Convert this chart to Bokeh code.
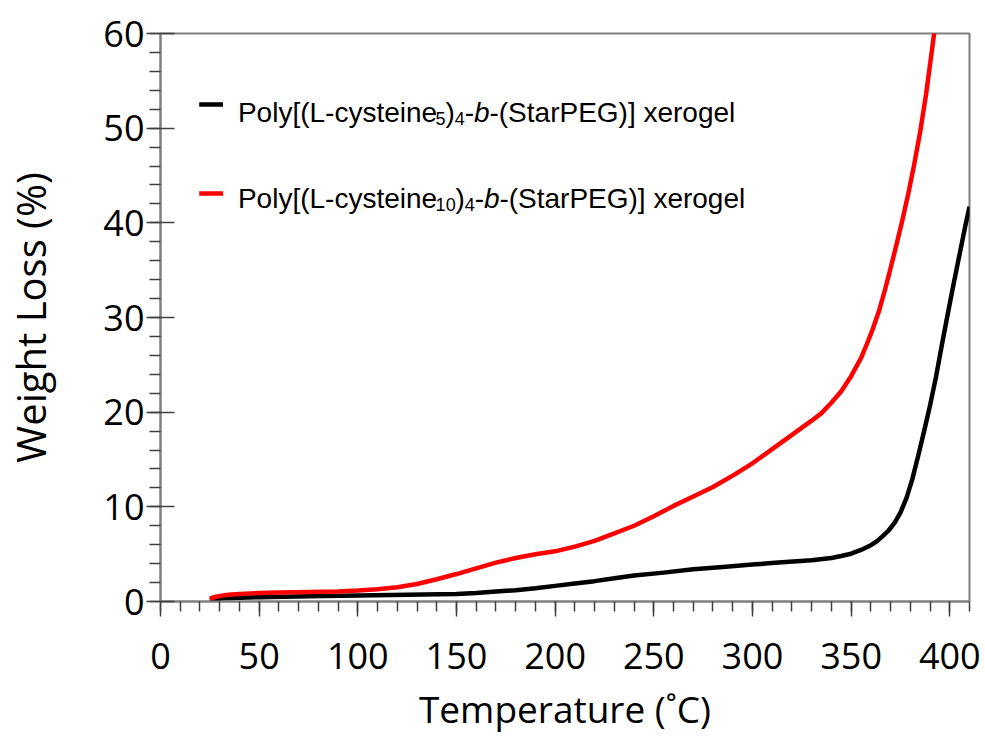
from bokeh.plotting import figure
from bokeh.models import Range1d, Label, FixedTicker
from bokeh.embed import file_html
from bokeh.resources import INLINE

# ---------------- data ----------------
temp_c5 = [25, 28, 32, 40, 50, 75, 100, 125, 150, 160, 170, 180, 190, 200, 210,
           220, 230, 240, 255, 270, 285, 300, 315, 330, 340, 345, 350, 355, 360,
           363, 366, 369, 372, 375, 378, 381, 384, 387, 390, 393, 396, 399, 402,
           405, 408, 410]
loss_c5 = [0.15, 0.25, 0.35, 0.4, 0.45, 0.55, 0.63, 0.7, 0.8, 0.9, 1.05, 1.2, 1.4,
           1.65, 1.9, 2.15, 2.45, 2.75, 3.05, 3.4, 3.65, 3.9, 4.15, 4.35, 4.6,
           4.8, 5.05, 5.45, 5.95, 6.35, 6.9, 7.5, 8.3, 9.4, 10.9, 12.9, 15.4,
           18.0, 20.7, 23.7, 27.1, 30.4, 33.6, 36.7, 39.8, 41.7]

temp_c10 = [25, 28, 32, 36, 40, 50, 60, 75, 90, 100, 110, 120, 130, 140, 150, 160,
            170, 180, 190, 200, 210, 220, 230, 240, 250, 260, 270, 280, 290, 300,
            310, 320, 330, 335, 340, 345, 350, 355, 358, 361, 364, 367, 370, 373,
            376, 379, 382, 385, 388, 391, 393]
loss_c10 = [0.3, 0.5, 0.65, 0.75, 0.8, 0.9, 0.95, 1.0, 1.05, 1.15, 1.3, 1.5, 1.85,
            2.35, 2.9, 3.5, 4.1, 4.6, 5.0, 5.3, 5.8, 6.4, 7.2, 8.0, 9.0, 10.1,
            11.1, 12.1, 13.3, 14.6, 16.1, 17.6, 19.1, 19.9, 21.0, 22.2, 23.8,
            25.7, 27.2, 28.8, 30.6, 32.8, 35.2, 37.7, 40.3, 43.1, 46.2, 49.6,
            53.6, 58.3, 61.5]

x_ticks = [0, 50, 100, 150, 200, 250, 300, 350, 400]
y_ticks = [0, 10, 20, 30, 40, 50, 60]

# ---------------- layout ----------------
X0, X1, Y0, Y1 = 0, 410, 0, 60
FL, FR, FT, FB = 154, 969, 33, 601   # frame in pixels


def dx(px):
    return X0 + (px - FL) / (FR - FL) * (X1 - X0)


def dy(py):
    return Y0 + (FB - py) / (FB - FT) * (Y1 - Y0)


p = figure(width=985, height=736, output_backend="svg", toolbar_location=None,
           x_range=Range1d(X0, X1), y_range=Range1d(Y0, Y1),
           min_border_left=FL, min_border_right=985 - FR,
           min_border_top=FT, min_border_bottom=736 - FB)
p.background_fill_color = "white"
p.border_fill_color = "white"
p.outline_line_color = "#7f7f7f"
p.outline_line_width = 2
p.xgrid.visible = False
p.ygrid.visible = False

TICK_FONT = "Open Sans"
AX_GREY = "#7f7f7f"
TICK_COL = "#404040"

p.xaxis.ticker = FixedTicker(ticks=x_ticks,
                             minor_ticks=list(range(0, 411, 10)))
p.yaxis.ticker = FixedTicker(ticks=y_ticks,
                             minor_ticks=list(range(0, 61, 2)))

for ax in (p.xaxis, p.yaxis):
    ax.axis_line_color = AX_GREY
    ax.axis_line_width = 2
    ax.major_tick_line_color = TICK_COL
    ax.minor_tick_line_color = TICK_COL
    ax.major_tick_line_width = 1.5
    ax.minor_tick_line_width = 1.5
    ax.major_label_text_font = TICK_FONT
    ax.major_label_text_font_size = "36px"
    ax.major_label_text_color = "black"
    ax.axis_label_text_font = TICK_FONT
    ax.axis_label_text_font_style = "normal"
    ax.axis_label_text_color = "black"

p.xaxis.axis_label = "Temperature (\u02daC)"
p.xaxis.axis_label_text_font_size = "37px"
p.xaxis.major_tick_out = 15
p.xaxis.major_tick_in = 0
p.xaxis.minor_tick_out = 10
p.xaxis.minor_tick_in = 0
p.xaxis.major_label_standoff = 26
p.xaxis.axis_label_standoff = 11

p.yaxis.axis_label = "Weight Loss (%)"
p.yaxis.axis_label_text_font_size = "40px"
p.yaxis.major_tick_out = 14
p.yaxis.major_tick_in = 14
p.yaxis.minor_tick_out = 11
p.yaxis.minor_tick_in = 0
p.yaxis.major_label_standoff = 2
p.yaxis.axis_label_standoff = 42

# ---------------- curves ----------------
p.line(temp_c5, loss_c5, line_color="black", line_width=4.5, line_join="round")
p.line(temp_c10, loss_c10, line_color="#ff0000", line_width=4.5,
       line_join="round")

# ---------------- legend (hand-built for subscripts) ----------------
AW = {'P': 667, 'o': 556, 'l': 222, 'y': 500, '[': 278, '(': 333, 'L': 556,
      '-': 333, 'c': 500, 's': 500, 't': 278, 'e': 556, 'i': 222, 'n': 556,
      ')': 333, '0': 556, '1': 556, '4': 556, '5': 556, 'b': 556, 'S': 667,
      'a': 556, 'r': 333, 'E': 667, 'G': 778, ']': 278, ' ': 278, 'x': 500,
      'g': 556}


def tw(s, size):
    return sum(AW.get(ch, 556) for ch in s) / 1000.0 * size


MAIN, SUB = 28, 18
LEG_FONT = "Liberation Sans"
BASE_FIX = 12   # empirical baseline correction (px)


def legend_entry(n_sub, color, swatch_y, base_y, text_x=232):
    p.segment(x0=[dx(193)], y0=[dy(swatch_y)], x1=[dx(217)], y1=[dy(swatch_y)],
              line_color=color, line_width=4.5)
    pieces = [("Poly[(L-cysteine", MAIN, "normal", False),
              (n_sub, SUB, "normal", True),
              (")", MAIN, "normal", False),
              ("4", SUB, "normal", True),
              ("-", MAIN, "normal", False),
              ("b", MAIN, "italic", False),
              ("-(StarPEG)] xerogel", MAIN, "normal", False)]
    xpos = text_x
    for txt, size, style, is_sub in pieces:
        by = base_y - BASE_FIX + (6 if is_sub else 0)
        p.add_layout(Label(x=dx(xpos), y=dy(by), text=txt,
                           text_font=LEG_FONT, text_font_size=f"{size}px",
                           text_font_style=style, text_color="black",
                           text_align="left", text_baseline="alphabetic"))
        xpos += tw(txt, size)


legend_entry("5", "black", 104, 124)
legend_entry("10", "#ff0000", 193, 210)

open("out.html", "w").write(file_html(p, INLINE))
